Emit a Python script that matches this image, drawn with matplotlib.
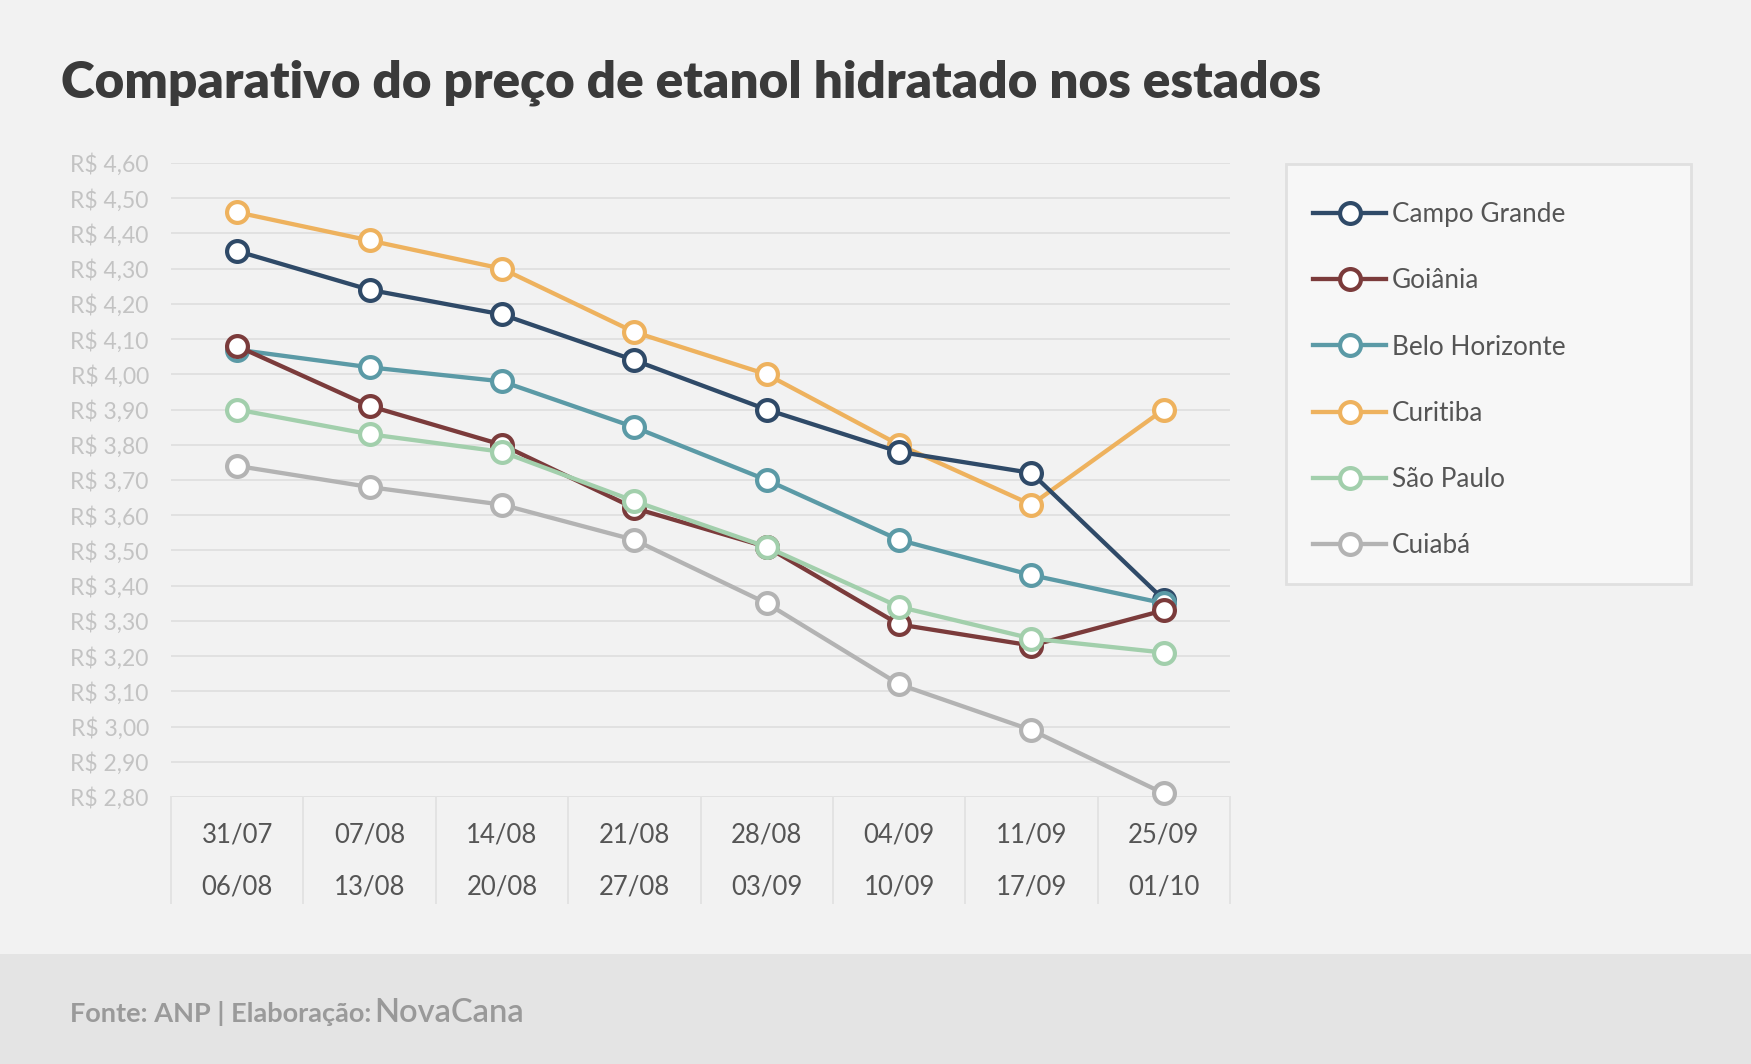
import matplotlib as mpl
import matplotlib.pyplot as plt
from matplotlib.patches import Rectangle
from matplotlib.transforms import blended_transform_factory

mpl.rcParams.update({
    "font.family": ["Lato", "DejaVu Sans"],
    "axes.spines.right": False,
    "axes.spines.top": False,
    "axes.spines.left": False,
    "axes.spines.bottom": False,
})

# ── Data ──
week_start = ["31/07", "07/08", "14/08", "21/08", "28/08", "04/09", "11/09", "25/09"]
week_end = ["06/08", "13/08", "20/08", "27/08", "03/09", "10/09", "17/09", "01/10"]

campo_grande = [4.35, 4.24, 4.17, 4.04, 3.90, 3.78, 3.72, 3.36]
goiania = [4.08, 3.91, 3.80, 3.62, 3.51, 3.29, 3.23, 3.33]
belo_horizonte = [4.07, 4.02, 3.98, 3.85, 3.70, 3.53, 3.43, 3.35]
curitiba = [4.46, 4.38, 4.30, 4.12, 4.00, 3.80, 3.63, 3.90]
sao_paulo = [3.90, 3.83, 3.78, 3.64, 3.51, 3.34, 3.25, 3.21]
cuiaba = [3.74, 3.68, 3.63, 3.53, 3.35, 3.12, 2.99, 2.81]

series = [
    ("Campo Grande", campo_grande, "#2f4a68", 4),
    ("Goiânia", goiania, "#7b3b3b", 6),
    ("Belo Horizonte", belo_horizonte, "#5b9aa6", 5),
    ("Curitiba", curitiba, "#eeb25e", 3),
    ("São Paulo", sao_paulo, "#a2cfac", 7),
    ("Cuiabá", cuiaba, "#b3b3b3", 2),
]

yticks = [2.8 + 0.1 * i for i in range(19)]

W, H = 1751, 1064
fig = plt.figure(figsize=(W / 100, H / 100), dpi=100, facecolor="#f2f2f2")

# footer band
fig.patches.append(Rectangle((0, 0), 1, (H - 954) / H, transform=fig.transFigure,
                             facecolor="#e4e4e4", edgecolor="none", zorder=0))

ax = fig.add_axes([171 / W, 1 - 797 / H, (1230 - 171) / W, (797 - 163) / H])
ax.set_facecolor("#f2f2f2")

x = list(range(len(week_start)))
for name, vals, color, z in series:
    ax.plot(x, vals, color=color, lw=3.1, marker="o", ms=15, mfc="white",
            mec=color, mew=3.0, label=name, zorder=z, clip_on=False)

ax.set_xlim(-0.5, len(x) - 0.5)
ax.set_ylim(2.8, 4.6)
ax.set_yticks(yticks)
ax.set_yticklabels([f"R$ {v:.2f}".replace(".", ",") for v in yticks],
                   fontsize=16.5, color="#c3c3c3")
ax.tick_params(axis="y", length=0, pad=16)
ax.set_xticks([])
ax.grid(axis="y", color="#e1e1e1", lw=1.4, zorder=0)

# category "table" under the plot
tr = blended_transform_factory(ax.transData, ax.transAxes)
depth = (903 - 797) / (797 - 163)
for b in [i - 0.5 for i in range(len(x) + 1)]:
    ax.plot([b, b], [0, -depth], transform=tr, color="#e3e3e3", lw=1.4, clip_on=False)
for i in x:
    ax.text(i, -(842 - 797) / (797 - 163), week_start[i], transform=tr, ha="center",
            va="baseline", fontsize=18.5, color="#555555")
    ax.text(i, -(895 - 797) / (797 - 163), week_end[i], transform=tr, ha="center",
            va="baseline", fontsize=18.5, color="#555555")

# legend box
fig.patches.append(Rectangle((1286 / W, 1 - 584 / H), (1691 - 1286) / W, (584 - 164) / H,
                             transform=fig.transFigure, facecolor="#f7f7f7",
                             edgecolor="#e0e0e0", lw=2, zorder=1))
leg = fig.legend(loc="upper left", bbox_to_anchor=(1313 / W, 1 - 202 / H), frameon=False,
                 fontsize=18.8, handlelength=2.8, handletextpad=0.22, labelspacing=1.58,
                 borderpad=0, borderaxespad=0)
for t in leg.get_texts():
    t.set_color("#555555")

# title and footer
fig.text(61 / W, 1 - 98 / H, "Comparativo do preço de etanol hidratado nos estados",
         fontsize=36.9, fontweight="heavy", color="#3a3a3a", va="baseline")
src = fig.text(70 / W, 1 - 1022 / H, "Fonte: ANP | Elaboração: ", fontsize=19.5,
               fontweight="bold", color="#9a9a9a", va="baseline")
fig.canvas.draw()
bb = src.get_window_extent()
fig.text((bb.x1 - 4) / W, 1 - 1022 / H, "NovaCana", fontsize=23.5, fontweight="semibold",
         color="#999999", va="baseline")

fig.savefig("out.png", dpi=100, facecolor=fig.get_facecolor())
